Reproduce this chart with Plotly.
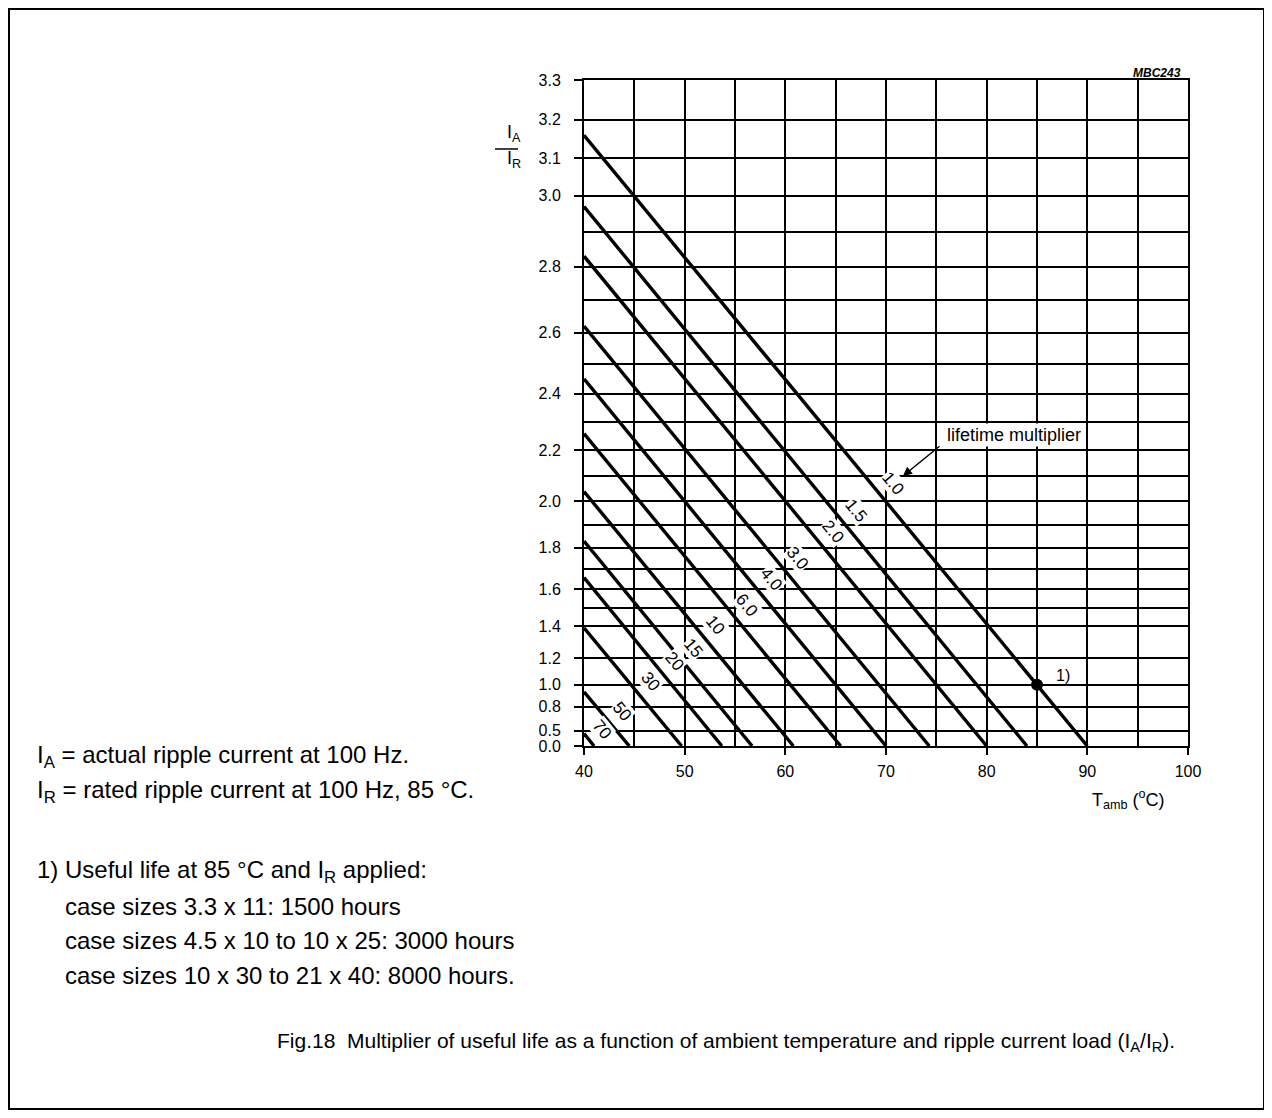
import math
import plotly.graph_objects as go

# ---------------- data ----------------
multipliers = ["1.0", "1.5", "2.0", "3.0", "4.0", "6.0", "10", "15", "20", "30", "50", "70"]
ratio_at_40 = [3.16, 2.97, 2.83, 2.62, 2.45, 2.26, 2.04, 1.83, 1.66, 1.39, 0.94, 0.45]   # I_A/I_R at 40 degC
temp_at_zero = [90.0, 84.0, 80.0, 74.3, 70.0, 65.5, 60.8, 56.7, 53.7, 49.7, 44.5, 41.0]  # degC where I_A/I_R = 0
label_temp = [69.4, 65.7, 63.4, 59.9, 57.3, 54.9, 51.8, 49.6, 47.7, 45.3, 42.5, 40.5]    # where each label sits

y_tick_labels = [0.0, 0.5, 0.8, 1.0, 1.2, 1.4, 1.6, 1.8, 2.0, 2.2, 2.4, 2.6, 2.8, 3.0, 3.1, 3.2, 3.3]
y_minor_grid = [1.5, 1.7, 1.9, 2.1, 2.3, 2.5, 2.7, 2.9]
x_ticks = [40, 50, 60, 70, 80, 90, 100]

ref_T = [85]
ref_ratio = [1.0]

# ---------------- layout geometry (page pixels) ----------------
OFF = 8                      # page body margin in which the figure sits
W, H = 1272 - OFF, 1118 - OFF
L, R, T, B = 584, 1188, 80, 746   # plot area on the page
X_RANGE = [40, 100]
Y_RANGE = [0, 3.3 ** 2]
FONT = "Liberation Sans, Arial, Helvetica, sans-serif"
GRID_W = 1.8


def sq(v):
    return v * v


def px2paper(x, y):
    return (x - L) / (R - L), (B - y) / (B - T)


fig = go.Figure()

px_per_deg = (R - L) / (X_RANGE[1] - X_RANGE[0])
px_per_unit = (B - T) / (Y_RANGE[1] - Y_RANGE[0])

for name, r40, tz, lt in zip(multipliers, ratio_at_40, temp_at_zero, label_temp):
    fig.add_trace(go.Scatter(
        x=[40, tz], y=[sq(r40), 0.0], mode="lines",
        line=dict(color="black", width=3.4), showlegend=False, hoverinfo="skip"))
    slope = sq(r40) / (tz - 40)          # I^2 units per degC
    ang = math.degrees(math.atan(slope * px_per_unit / px_per_deg))
    ly = sq(r40) * (tz - lt) / (tz - 40)
    d = 17
    nx, ny = math.sin(math.radians(ang)), math.cos(math.radians(ang))
    fig.add_annotation(
        x=lt, y=ly, xref="x", yref="y", text=name, showarrow=False,
        textangle=ang, xshift=d * nx, yshift=d * ny,
        font=dict(family=FONT, size=17, color="black"),
        bgcolor="white", borderpad=0)

fig.add_trace(go.Scatter(
    x=ref_T, y=[sq(v) for v in ref_ratio], mode="markers",
    marker=dict(color="black", size=12), showlegend=False, hoverinfo="skip"))

fig.update_xaxes(
    range=X_RANGE, tickmode="array", tickvals=x_ticks,
    ticktext=[str(v) for v in x_ticks],
    ticks="outside", ticklen=7, tickwidth=GRID_W, tickcolor="black",
    showgrid=True, gridcolor="black", gridwidth=GRID_W,
    minor=dict(tickmode="linear", tick0=40, dtick=5, showgrid=True,
               gridcolor="black", gridwidth=GRID_W, ticks=""),
    showline=True, linecolor="black", linewidth=2, mirror=True,
    zeroline=False, ticklabelstandoff=3,
    tickfont=dict(family=FONT, size=16, color="black"))

fig.update_yaxes(
    range=Y_RANGE, tickmode="array", tickvals=[sq(v) for v in y_tick_labels],
    ticktext=[f"{v:.1f}" for v in y_tick_labels],
    ticks="outside", ticklen=8, tickwidth=GRID_W, tickcolor="black",
    showgrid=True, gridcolor="black", gridwidth=GRID_W,
    minor=dict(tickmode="array", tickvals=[sq(v) for v in y_minor_grid],
               showgrid=True, gridcolor="black", gridwidth=GRID_W, ticks=""),
    showline=True, linecolor="black", linewidth=2, mirror=True,
    zeroline=False, ticklabelstandoff=10,
    tickfont=dict(family=FONT, size=16, color="black"))


def text_at(x, y, text, size, xanchor="left", yanchor="middle", bg=None, **kw):
    px, py = px2paper(x, y)
    fig.add_annotation(
        x=px, y=py, xref="paper", yref="paper", text=text, showarrow=False,
        xanchor=xanchor, yanchor=yanchor,
        font=dict(family=FONT, size=size, color="black", **kw),
        bgcolor=bg, borderpad=1)


# axis titles
text_at(505, 134, "I<sub>A</sub>", 18, xanchor="left")
text_at(505, 160, "I<sub>R</sub>", 18, xanchor="left")
text_at(1090, 799, "T<sub>amb</sub> (<sup>o</sup>C)", 18, xanchor="left")
text_at(1183, 73, "<b><i>MBC243</i></b>", 12, xanchor="right")

# callouts
text_at(1014, 435, "lifetime multiplier", 18, xanchor="center", bg="white")
tipx, tipy = px2paper(903, 476)
fig.add_annotation(x=tipx, y=tipy, xref="paper", yref="paper", text="",
                   showarrow=True, arrowhead=2, arrowsize=1.2, arrowwidth=1.5,
                   arrowcolor="black", ax=38, ay=-31, standoff=0)
text_at(1054, 675, "1)", 16, xanchor="left")

# notes on the left
text_at(35, 756, "I<sub>A</sub> = actual ripple current at 100 Hz.", 24)
text_at(35, 792, "I<sub>R</sub> = rated ripple current at 100 Hz, 85 °C.", 24)
text_at(35, 871, "1) Useful life at 85 °C and I<sub>R</sub> applied:", 24)
text_at(63, 906, "case sizes 3.3 x 11: 1500 hours", 24)
text_at(63, 941, "case sizes 4.5 x 10 to 10 x 25: 3000 hours", 24)
text_at(63, 976, "case sizes 10 x 30 to 21 x 40: 8000 hours.", 24)

# caption
text_at(726, 1042,
        "Fig.18  Multiplier of useful life as a function of ambient temperature "
        "and ripple current load (I<sub>A</sub>/I<sub>R</sub>).",
        21, xanchor="center")

# fraction bar of the y title and the outer frame
bx0, by = px2paper(495, 149)
bx1, _ = px2paper(518, 149)
fig.add_shape(type="line", xref="paper", yref="paper", x0=bx0, x1=bx1, y0=by, y1=by,
              line=dict(color="black", width=1.5))
fx0, fy0 = px2paper(9, 1109)
fx1, fy1 = px2paper(1264, 9)
fig.add_shape(type="rect", xref="paper", yref="paper", x0=fx0, x1=fx1, y0=fy0, y1=fy1,
              line=dict(color="black", width=2))

fig.update_layout(
    width=W, height=H, autosize=False,
    margin=dict(l=L - OFF, r=1272 - R, t=T - OFF, b=1118 - B, pad=0),
    paper_bgcolor="white", plot_bgcolor="white",
    font=dict(family=FONT, color="black"),
    showlegend=False)

fig.write_html("out.html")
